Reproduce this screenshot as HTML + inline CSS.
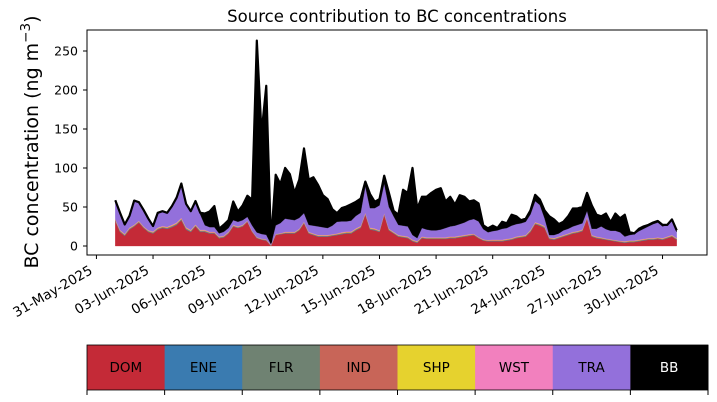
<!DOCTYPE html>
<html><head><meta charset="utf-8">
<style>
html,body{margin:0;padding:0;background:#fff;}
svg{display:block;font-family:"DejaVu Sans","Liberation Sans",sans-serif;}
</style></head>
<body>
<svg id="chart" width="717" height="402" viewBox="0 0 717 402">
  <text x="397" y="22" text-anchor="middle" font-size="16.5" fill="#000">Source contribution to BC concentrations</text>
  <text transform="translate(38,142) rotate(-90)" text-anchor="middle" font-size="19" fill="#000">BC concentration (ng m<tspan dy="-8" font-size="13.5">−3</tspan><tspan dy="8">)</tspan></text>
  <g id="areas"></g>
  <g id="yaxis"></g>
  <g id="xaxis"></g>
  <rect x="87" y="30" width="620" height="225" fill="none" stroke="#000" stroke-width="1"/>
  <g id="legend"></g>
</svg>
<script>
// ---- data (6-hourly from 01-Jun-2025 00:00; ng m-3) ----
const sources = ["DOM","ENE","FLR","IND","SHP","WST","TRA","BB"];
const colors = ["#c42a37","#3a7bb0","#6f8272","#c86558","#e6d22e","#f280be","#9370db","#000000"];
const dom = [32,18,13,21,25,30,23,18,16,21,23,22,24,27,33,21,18,25,18,18,16,16,10,11,16,25,23,25,31,18,
 10,8,7,0,14,15,16,16,16,20,29,16,14,12,12,12,13,14,15,16,16,20,23,40,21,20,18,40,20,16,
 12,11,10,6,4,10,9,9,9,9,9,10,10,11,12,13,14,10,7,6,6,6,6,7,8,10,11,12,18,28,
 26,23,9,8,10,12,14,16,17,19,35,12,10,9,8,7,6,5,4,5,5,6,7,8,8,9,8,10,12,8];
const tra = [24,22,12,15,31,24,21,15,7,19,19,18,24,32,44,30,24,30,20,6,6,6,4,5,5,6,6,6,5,7,
 6,6,6,1,11,13,17,16,15,14,11,9,10,11,10,9,11,15,14,13,14,16,17,34,25,26,32,38,28,20,
 13,13,13,6,4,11,10,9,9,10,12,13,14,15,16,18,19,20,13,10,11,12,14,14,16,16,16,17,20,27,
 24,10,3,4,4,6,6,7,8,8,8,8,10,14,12,11,12,11,6,7,8,11,13,15,18,19,15,15,18,8];
const bb = [0,0,0,0,0,0,0,0,0,0,0,0,0,0,0,0,0,0,2,15,20,27,6,9,10,24,13,19,27,33,
 246,129,191,3,65,50,65,58,35,49,83,58,62,53,41,37,21,11,17,19,21,18,18,6,18,8,8,10,18,7,
 13,46,43,86,38,40,42,48,52,53,34,38,27,37,33,24,24,23,5,5,7,3,9,6,14,10,4,4,5,8,
 7,10,24,20,12,11,16,23,21,21,23,30,18,13,20,11,22,18,28,4,1,3,3,2,2,2,2,0,2,2];
// minor sources, daily values
const ene = [0.4,0.3,0.4,0.5,0.4,0.3,0.3,0.2,0.2,0.3,0.3,0.3,0.4,0.4,0.3,0.3,0.3,0.3,0.3,0.2,0.3,0.3,0.4,0.3,0.3,0.3,0.2,0.3,0.3,0.3];
const flr = [0.6,0.5,0.6,0.7,0.6,0.5,0.5,0.3,0.3,0.5,0.5,0.5,0.6,0.6,0.5,0.5,0.5,0.5,0.5,0.4,0.5,0.5,0.6,0.5,0.5,0.5,0.4,0.5,0.5,0.5];
const ind = [0.5,0.5,0.5,0.6,0.5,0.5,0.4,0.3,0.3,0.4,0.4,0.4,0.5,0.5,0.4,0.4,0.4,0.4,0.4,0.3,0.4,0.4,0.5,0.4,0.4,0.4,0.3,0.4,0.4,0.4];
const shp = [0.5,0.4,0.5,0.6,0.5,0.4,0.4,0.3,0.3,0.4,0.4,0.4,0.5,0.5,0.4,0.4,0.4,0.4,0.4,0.3,0.4,0.4,0.5,0.4,0.4,0.4,0.3,0.4,0.4,0.4];
const wst = [0.6,0.5,0.6,0.7,0.6,0.5,0.5,0.3,0.3,0.5,0.5,0.5,0.6,0.6,0.5,0.5,0.5,0.5,0.5,0.4,0.5,0.5,0.6,0.5,0.5,0.5,0.4,0.5,0.5,0.5];
const yTicks = [0,50,100,150,200,250];
const xTickLabels = ["31-May-2025","03-Jun-2025","06-Jun-2025","09-Jun-2025","12-Jun-2025","15-Jun-2025","18-Jun-2025","21-Jun-2025","24-Jun-2025","27-Jun-2025","30-Jun-2025"];
const xTickDays = [-1,2,5,8,11,14,17,20,23,26,29];

// ---- axes ----
const NS = "http://www.w3.org/2000/svg";
const x = d => 115.3 + d * 18.87;       // days since 01-Jun
const y = v => 246 - v * 0.78;
function mk(tag, attrs, parent){ const e=document.createElementNS(NS,tag); for(const k in attrs) e.setAttribute(k,attrs[k]); parent.appendChild(e); return e; }

const n = dom.length;
const daily = arr => dom.map((_, i) => arr[Math.min(arr.length-1, Math.floor(i/4))]);
const layers = [dom, daily(ene), daily(flr), daily(ind), daily(shp), daily(wst), tra, bb];
const areas = document.getElementById('areas');
let base = new Array(n).fill(0);
layers.forEach((L, li) => {
  const top = base.map((b, i) => b + L[i]);
  let d = "M" + x(0) + "," + y(base[0]).toFixed(2);
  for (let i = 0; i < n; i++) d += " L" + x(i/4).toFixed(2) + "," + y(top[i]).toFixed(2);
  for (let i = n-1; i >= 0; i--) d += " L" + x(i/4).toFixed(2) + "," + y(base[i]).toFixed(2);
  const p = mk('path', {d: d + "Z", fill: colors[li], stroke: colors[li], 'stroke-width': 0.3}, areas);
  
  
  base = top;
});
let ld = "";
for (let i = 0; i < n; i++) ld += (i ? " L" : "M") + x(i/4).toFixed(2) + "," + y(base[i]).toFixed(2);
const tl = mk('path', {d: ld, fill: "none", stroke: "#000", 'stroke-width': 2.2, 'stroke-linejoin': 'round'}, areas);



const ya = document.getElementById('yaxis');
yTicks.forEach(t => {
  const l = mk('line', {x1: 83, x2: 87, y1: y(t), y2: y(t), stroke: "#000"}, ya);
  
  
  const tx = mk('text', {x: 78, y: y(t) + 4.5, 'text-anchor': 'end', 'font-size': 12.5}, ya);
  tx.textContent = t;
  
  
});
const xa = document.getElementById('xaxis');
xTickDays.forEach((d, i) => {
  const px = x(d);
  const l = mk('line', {x1: px, x2: px, y1: 255, y2: 259, stroke: "#000"}, xa);
  
  
  const tx = mk('text', {transform: "translate(" + (px - 3) + ",273) rotate(-30)", 'text-anchor': 'end', 'font-size': 13.5}, xa);
  tx.textContent = xTickLabels[i];
  
  
});

// ---- colorbar legend ----
const lg = document.getElementById('legend');
const lx0 = 87, lx1 = 708, w = (lx1 - lx0) / sources.length;
sources.forEach((s, i) => {
  const r = mk('rect', {x: lx0 + i*w, y: 345, width: w + 0.5, height: 45, fill: colors[i]}, lg);
  
  
  const t = mk('text', {x: lx0 + (i + 0.5)*w, y: 372, 'text-anchor': 'middle', 'font-size': 13.5, fill: i === 7 ? "#fff" : "#000"}, lg);
  t.textContent = s;
  
  
});
for (let i = 0; i <= sources.length; i++) {
  const l = mk('line', {x1: lx0 + i*w, x2: lx0 + i*w, y1: 390, y2: 395, stroke: "#000"}, lg);
  
  
}
const fr = mk('rect', {x: lx0, y: 345, width: lx1 - lx0, height: 45, fill: "none", stroke: "#000", 'stroke-width': 0.8}, lg);


</script>
</body></html>
